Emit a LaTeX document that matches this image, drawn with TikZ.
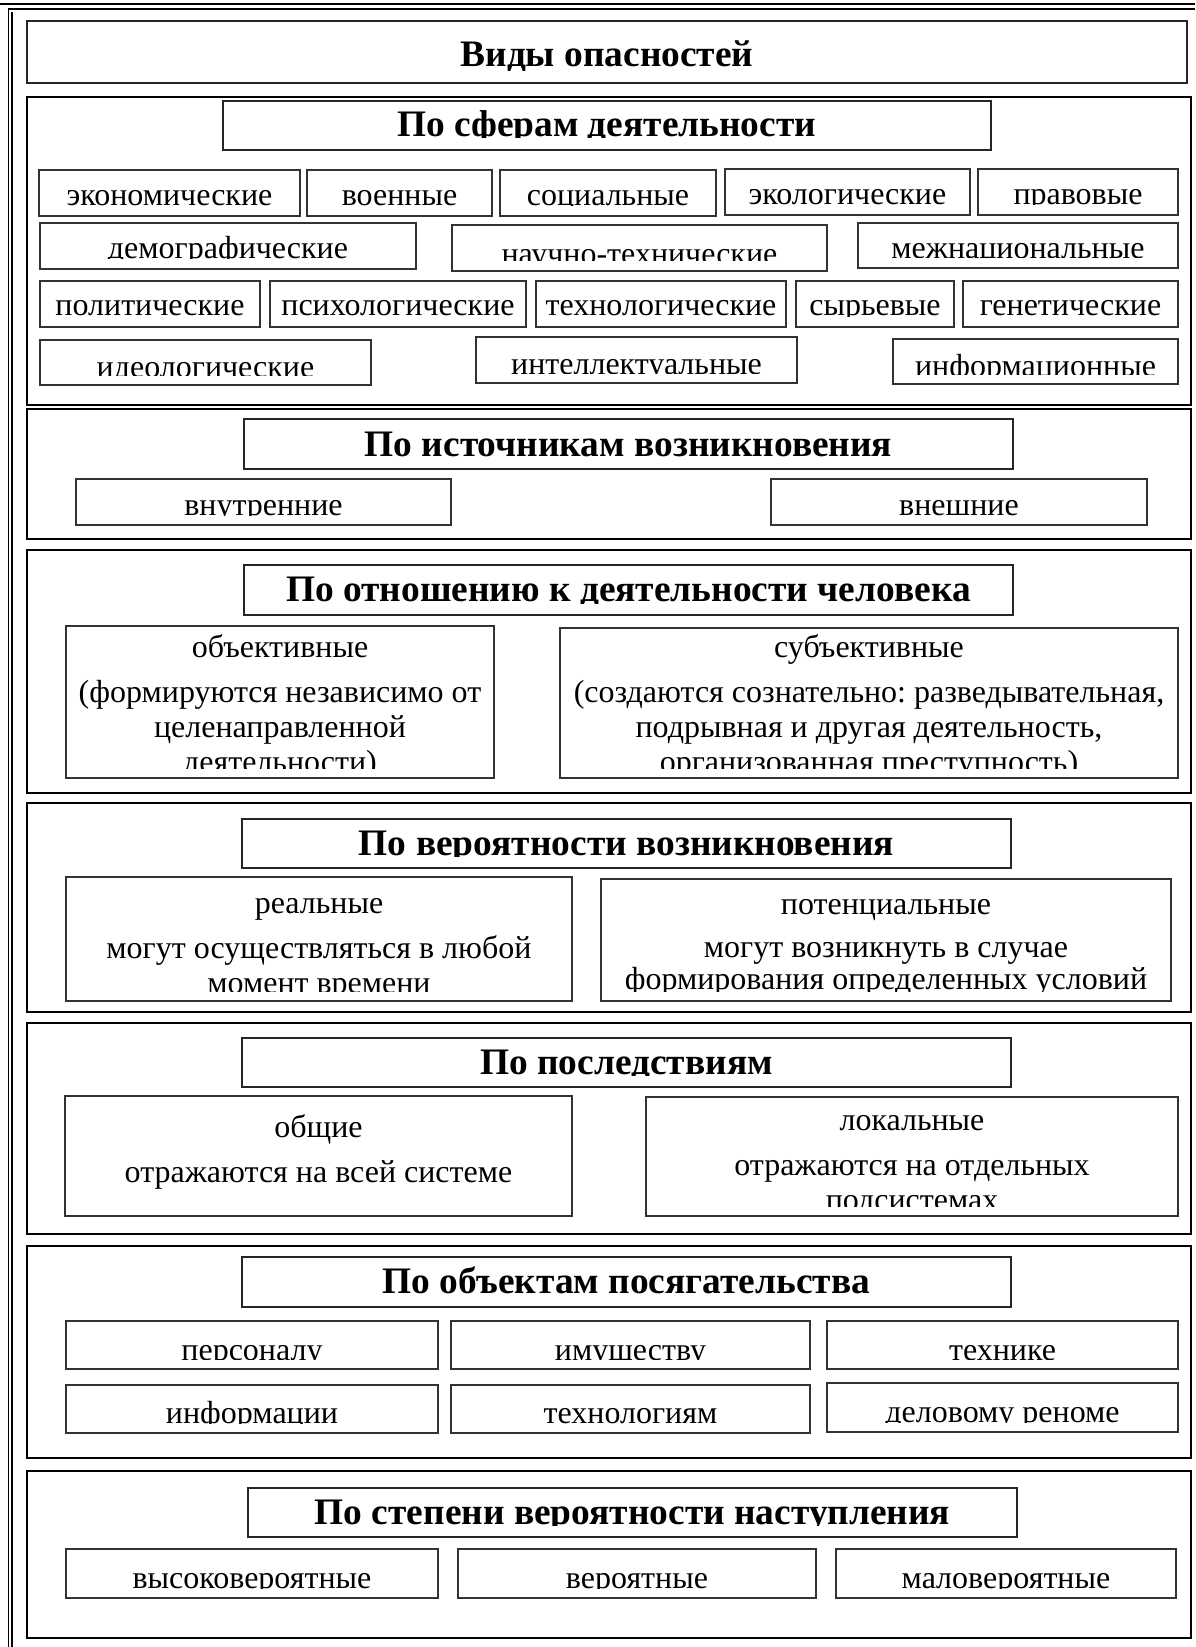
\documentclass[tikz,border=0pt]{standalone}
\usepackage{fontspec}
\setmainfont{Liberation Serif}
\frenchspacing
\usepackage{tikz}
\usetikzlibrary{fit}

\tikzset{
  sect/.style={draw, line width=1.4pt, inner sep=0pt},
  cell/.style 2 args={draw=black!80, line width=0.6pt, inner sep=0pt,
    path picture={
      \clip (path picture bounding box.north west) rectangle ([yshift=5pt]path picture bounding box.south east);
      \node[anchor=base, inner sep=0pt, font=\fontsize{16}{17.5}\selectfont]
        at ([yshift=-#1]path picture bounding box.north) {\begin{tabular}[t]{@{}c@{}}#2\end{tabular}};}},
  head/.style 2 args={draw=black!85, line width=0.8pt, inner sep=0pt,
    path picture={
      \clip (path picture bounding box.north west) rectangle ([yshift=6pt]path picture bounding box.south east);
      \node[anchor=base, inner sep=0pt, font=\fontsize{18.7}{20}\selectfont\bfseries]
        at ([yshift=-#1]path picture bounding box.north) {#2};}},
}

\begin{document}
\begin{tikzpicture}[x=0.5pt,y=-0.5pt]
\useasboundingbox (0,0) rectangle (1195,1647);
\draw[line width=0.9pt] (0,4) -- (1195,4);
\draw[line width=0.7pt] (1195,9) -| (8.5,1647);
\draw[line width=0.6pt] (12,12) -- (12,1647);

\node[head={23pt}{Виды опасностей}, fit={(27,21) (1187,83)}] (vidy) {};

\node[sect, fit={(27,97) (1191,405)}] (sfery) {};
\node[head={18pt}{По сферам деятельности}, fit={(223,101) (991,150)}] (hsfery) {};
\node[cell={18pt}{экономические}, fit={(39,170) (300,216)}] (econ) {};
\node[cell={18pt}{военные}, fit={(307,170) (492,216)}] (voen) {};
\node[cell={18pt}{социальные}, fit={(500,170) (716,216)}] (soc) {};
\node[cell={18pt}{экологические}, fit={(725,169) (970,215)}] (ekol) {};
\node[cell={18pt}{правовые}, fit={(978,169) (1178,215)}] (prav) {};
\node[cell={18pt}{демографические}, fit={(40,223) (416,269)}] (demo) {};
\node[cell={20pt}{научно-технические}, fit={(452,225) (827,271)}] (nauch) {};
\node[cell={18pt}{межнациональные}, fit={(858,223) (1178,268)}] (mezh) {};
\node[cell={17.5pt}{политические}, fit={(40,281) (260,327)}] (polit) {};
\node[cell={17.5pt}{психологические}, fit={(270,281) (526,327)}] (psih) {};
\node[cell={17.5pt}{технологические}, fit={(536,281) (786,327)}] (tehn) {};
\node[cell={17.5pt}{сырьевые}, fit={(796,281) (954,327)}] (syr) {};
\node[cell={17.5pt}{генетические}, fit={(963,281) (1178,327)}] (gen) {};
\node[cell={18.5pt}{идеологические}, fit={(40,340) (371,385)}] (ideo) {};
\node[cell={18.5pt}{интеллектуальные}, fit={(476,337) (797,383)}] (intel) {};
\node[cell={18.5pt}{информационные}, fit={(893,339) (1178,384)}] (inform) {};

\node[sect, fit={(27,409) (1191,539)}] (istoch) {};
\node[head={18.5pt}{По источникам возникновения}, fit={(244,419) (1013,469)}] (histoch) {};
\node[cell={18pt}{внутренние}, fit={(76,479) (451,525)}] (vnutr) {};
\node[cell={18pt}{внешние}, fit={(771,479) (1147,525)}] (vnesh) {};

\node[sect, fit={(27,550) (1191,793)}] (otnosh) {};
\node[head={18pt}{По отношению к деятельности человека}, fit={(244,565) (1013,615)}] (hotnosh) {};
\node[cell={15.5pt}{объективные\\[5pt](формируются независимо от\\целенаправленной\\деятельности)}, fit={(66,626) (494,778)}] (obj) {};
\node[cell={14.5pt}{субъективные\\[5pt](создаются сознательно: разведывательная,\\подрывная и другая деятельность,\\организованная преступность)}, fit={(560,628) (1178,778)}] (subj) {};

\node[sect, fit={(27,803) (1191,1012)}] (veroj) {};
\node[head={18pt}{По вероятности возникновения}, fit={(242,819) (1011,868)}] (hveroj) {};
\node[cell={18pt}{реальные\\[5pt]могут осуществляться в любой\\момент времени}, fit={(66,877) (572,1001)}] (real) {};
\node[cell={17.5pt}{потенциальные\\[4pt]могут возникнуть в случае\\[-1.5pt]формирования определенных условий}, fit={(601,879) (1171,1001)}] (pot) {};

\node[sect, fit={(27,1023) (1191,1234)}] (posled) {};
\node[head={18pt}{По последствиям}, fit={(242,1038) (1011,1087)}] (hposled) {};
\node[cell={20.5pt}{общие\\[5pt]отражаются на всей системе}, fit={(65,1096) (572,1216)}] (obsch) {};
\node[cell={16.5pt}{локальные\\[5pt]отражаются на отдельных\\подсистемах}, fit={(646,1097) (1178,1216)}] (lok) {};

\node[sect, fit={(27,1246) (1191,1458)}] (obekt) {};
\node[head={18pt}{По объектам посягательства}, fit={(242,1257) (1011,1307)}] (hobekt) {};
\node[cell={19.5pt}{персоналу}, fit={(66,1321) (438,1369)}] (pers) {};
\node[cell={19.5pt}{имуществу}, fit={(451,1321) (810,1369)}] (imusch) {};
\node[cell={19.5pt}{технике}, fit={(827,1321) (1178,1369)}] (tehnike) {};
\node[cell={19pt}{информации}, fit={(66,1385) (438,1433)}] (infor) {};
\node[cell={19pt}{технологиям}, fit={(451,1385) (810,1433)}] (tehnol) {};
\node[cell={19.5pt}{деловому реноме}, fit={(827,1383) (1178,1432)}] (delov) {};

\node[sect, fit={(27,1471) (1191,1638)}] (stepen) {};
\node[head={18pt}{По степени вероятности наступления}, fit={(248,1488) (1017,1537)}] (hstepen) {};
\node[cell={19.5pt}{высоковероятные}, fit={(66,1549) (438,1598)}] (vysok) {};
\node[cell={19.5pt}{вероятные}, fit={(458,1549) (816,1598)}] (verojat) {};
\node[cell={19.5pt}{маловероятные}, fit={(836,1549) (1176,1598)}] (malo) {};
\end{tikzpicture}
\end{document}
